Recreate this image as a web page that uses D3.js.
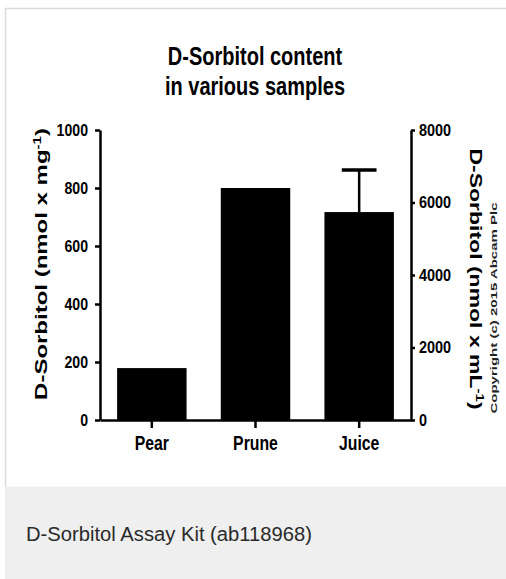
<!DOCTYPE html>
<html>
<head>
<meta charset="utf-8">
<script src="https://cdn.jsdelivr.net/npm/d3@7"></script>
<style>
  body { margin: 0; background: #fff; }
  svg { display: block; }
</style>
</head>
<body>
<div id="chart"></div>
<script>
const width = 506;
const height = 579;

// data (left axis units, nmol x mg-1)
const categories = ['Pear', 'Prune', 'Juice'];
const values = [179, 800, 717];
const errUpper = [0, 0, 145];
const leftTicks = [0, 200, 400, 600, 800, 1000];
const rightTicks = [0, 2000, 4000, 6000, 8000];
const titleLines = ['D-Sorbitol content', 'in various samples'];
const caption = 'D-Sorbitol Assay Kit (ab118968)';

const plot = {left: 100, right: 411, top: 130, bottom: 420};
const font = '"Liberation Sans", Arial, sans-serif';

// the source image is squashed horizontally, so text is narrowed
const squeeze = (sel, k) => {
    sel.each(function() {
        const n = this.getComputedTextLength();
        d3.select(this).attr('textLength', n * k).attr('lengthAdjust', 'spacingAndGlyphs');
    });
};

const svg = d3.select('#chart')
    .append('svg')
    .attr('width', width)
    .attr('height', height);

// frame and caption panel
svg.append('rect')
    .attr('x', 5.5).attr('y', 8.5)
    .attr('width', 520).attr('height', 479)
    .attr('fill', '#fff')
    .attr('stroke', '#dcdcdc')
    .attr('stroke-width', 1.5);

svg.append('rect')
    .attr('x', 5).attr('y', 487)
    .attr('width', 520).attr('height', 100)
    .attr('fill', '#eeefee');

svg.append('text')
    .attr('x', 26).attr('y', 541)
    .attr('font-family', font)
    .attr('font-size', 20)
    .attr('fill', '#2a2a2a')
    .text(caption)
    .call(squeeze, 1.01);

// scales
const x = d3.scaleBand()
    .domain(categories)
    .range([plot.left, plot.right])
    .paddingInner(0.33)
    .paddingOuter(0.165);

const yLeft = d3.scaleLinear().domain([0, 1000]).range([plot.bottom, plot.top]);
const yRight = d3.scaleLinear().domain([0, 8000]).range([plot.bottom, plot.top]);

// title
const title = svg.append('g')
    .attr('font-family', font)
    .attr('font-weight', 'bold')
    .attr('font-size', 25)
    .attr('text-anchor', 'middle');
title.selectAll('text')
    .data(titleLines)
    .join('text')
    .attr('x', 255)
    .attr('y', (d, i) => 65 + i * 30)
    .text(d => d)
    .call(squeeze, 0.8);

// bars
svg.append('g')
    .selectAll('rect')
    .data(categories)
    .join('rect')
    .attr('x', d => x(d))
    .attr('y', (d, i) => yLeft(values[i]))
    .attr('width', x.bandwidth())
    .attr('height', (d, i) => yLeft(0) - yLeft(values[i]))
    .attr('fill', '#000');

// error bars (upper only)
const errs = svg.append('g').attr('stroke', '#000');
categories.forEach((c, i) => {
    if (!errUpper[i]) return;
    const cx = x(c) + x.bandwidth() / 2;
    errs.append('line')
        .attr('x1', cx).attr('x2', cx)
        .attr('y1', yLeft(values[i]))
        .attr('y2', yLeft(values[i] + errUpper[i]))
        .attr('stroke-width', 2.5);
    errs.append('line')
        .attr('x1', cx - x.bandwidth() / 4).attr('x2', cx + x.bandwidth() / 4)
        .attr('y1', yLeft(values[i] + errUpper[i]))
        .attr('y2', yLeft(values[i] + errUpper[i]))
        .attr('stroke-width', 3.5);
});

// axes
const styleAxis = (g, size) => {
    g.selectAll('path, line').attr('stroke', '#000').attr('stroke-width', 2.5);
    g.selectAll('text')
        .attr('fill', '#000')
        .attr('font-family', font)
        .attr('font-weight', 'bold')
        .attr('font-size', size);
};

const gLeft = svg.append('g')
    .attr('transform', 'translate(' + plot.left + ',0)')
    .call(d3.axisLeft(yLeft).tickValues(leftTicks).tickFormat(d3.format('d'))
        .tickSize(5).tickSizeOuter(0).tickPadding(7))
    .call(styleAxis, 17);
gLeft.selectAll('text').call(squeeze, 0.83);

const gRight = svg.append('g')
    .attr('transform', 'translate(' + plot.right + ',0)')
    .call(d3.axisRight(yRight).tickValues(rightTicks).tickFormat(d3.format('d'))
        .tickSize(4).tickSizeOuter(0).tickPadding(4))
    .call(styleAxis, 17);
gRight.selectAll('text').call(squeeze, 0.85);

const gBottom = svg.append('g')
    .attr('transform', 'translate(0,' + plot.bottom + ')')
    .call(d3.axisBottom(x).tickSize(8).tickSizeOuter(0).tickPadding(8))
    .call(styleAxis, 20);
gBottom.selectAll('text').call(squeeze, 0.79);

// axis titles (rotated, narrowed across their thickness)
const leftTitle = svg.append('text')
    .attr('transform', 'translate(47,264) scale(0.7,1) rotate(-90)')
    .attr('text-anchor', 'middle')
    .attr('font-family', font)
    .attr('font-weight', 'bold')
    .attr('font-size', 24);
leftTitle.append('tspan').text('D-Sorbitol (nmol x mg');
leftTitle.append('tspan').attr('dy', -9).attr('font-size', 15).text('-1');
leftTitle.append('tspan').attr('dy', 9).text(')');

const rightTitle = svg.append('text')
    .attr('transform', 'translate(470,279) scale(0.7,1) rotate(90)')
    .attr('text-anchor', 'middle')
    .attr('font-family', font)
    .attr('font-weight', 'bold')
    .attr('font-size', 23);
rightTitle.append('tspan').text('D-Sorbitol (nmol x mL');
rightTitle.append('tspan').attr('dy', -9).attr('font-size', 15).text('-1');
rightTitle.append('tspan').attr('dy', 9).text(')');

// copyright note
svg.append('text')
    .attr('transform', 'translate(497,308) scale(0.65,1) rotate(-90)')
    .attr('text-anchor', 'middle')
    .attr('font-family', font)
    .attr('font-weight', 'bold')
    .attr('font-size', 15)
    .attr('fill', '#222')
    .text('Copyright (c) 2015 Abcam Plc');
</script>
</body>
</html>
